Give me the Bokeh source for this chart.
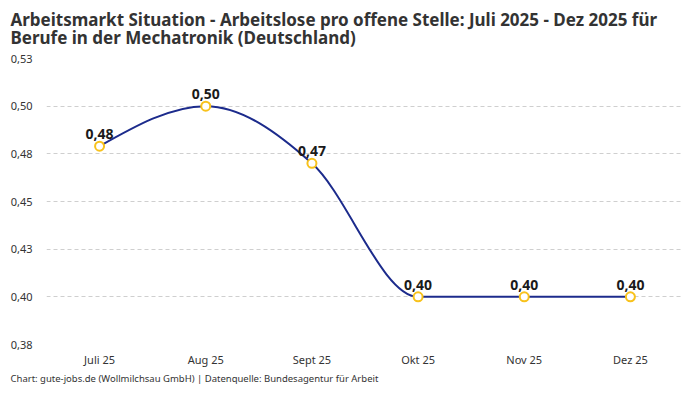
from bokeh.plotting import figure
from bokeh.models import ColumnDataSource, FixedTicker, Title
from bokeh.core.properties import value
from bokeh.embed import file_html
from bokeh.resources import INLINE

months = ["Juli 25", "Aug 25", "Sept 25", "Okt 25", "Nov 25", "Dez 25"]
ratio = [0.479, 0.50, 0.47, 0.40, 0.40, 0.40]
y_ticks = [0.375, 0.40, 0.425, 0.45, 0.475, 0.50, 0.525]
title_lines = [
    "Arbeitsmarkt Situation - Arbeitslose pro offene Stelle: Juli 2025 - Dez 2025 für",
    "Berufe in der Mechatronik (Deutschland)",
]
footer = "Chart: gute-jobs.de (Wollmilchsau GmbH) | Datenquelle: Bundesagentur für Arbeit"

FONT = "Noto Sans"
LINE = "#1c2b8c"
DOT = "#f8c21c"
TXT = "#333333"


def de(v):
    return f"{v + 1e-9:.2f}".replace(".", ",")


def monotone_tangents(xs, ys):
    # same slopes as d3 curveMonotoneX
    n = len(xs)
    s = [(ys[i + 1] - ys[i]) / (xs[i + 1] - xs[i]) for i in range(n - 1)]
    sgn = lambda v: (v > 0) - (v < 0)
    t = [0.0] * n
    for i in range(1, n - 1):
        h0, h1 = xs[i] - xs[i - 1], xs[i + 1] - xs[i]
        p = (s[i - 1] * h1 + s[i] * h0) / (h0 + h1)
        t[i] = (sgn(s[i - 1]) + sgn(s[i])) * min(abs(s[i - 1]), abs(s[i]), 0.5 * abs(p))
    t[0] = (3 * s[0] - t[1]) / 2
    t[-1] = (3 * s[-1] - t[-2]) / 2
    return t


xs = list(range(len(months)))
tan = monotone_tangents(xs, ratio)
seg = dict(x0=[], y0=[], x1=[], y1=[], cx0=[], cy0=[], cx1=[], cy1=[])
for i in range(len(xs) - 1):
    dx = (xs[i + 1] - xs[i]) / 3
    seg["x0"].append(xs[i]); seg["y0"].append(ratio[i])
    seg["x1"].append(xs[i + 1]); seg["y1"].append(ratio[i + 1])
    seg["cx0"].append(xs[i] + dx); seg["cy0"].append(ratio[i] + dx * tan[i])
    seg["cx1"].append(xs[i + 1] - dx); seg["cy1"].append(ratio[i + 1] - dx * tan[i + 1])

pts = ColumnDataSource(dict(x=xs, y=ratio, lbl=[de(v) for v in ratio]))

p = figure(width=684, height=384, x_range=(-0.5, 5.5), y_range=(0.375, 0.525),
           output_backend="svg", toolbar_location=None,
           min_border_left=46, min_border_right=1, min_border_top=0, min_border_bottom=0)
p.outline_line_color = None
p.background_fill_color = "white"
p.border_fill_color = "white"

p.xgrid.grid_line_color = None
p.ygrid.grid_line_color = "#cfcfcf"
p.ygrid.grid_line_dash = "4 3"

p.yaxis.ticker = FixedTicker(ticks=y_ticks)
p.yaxis.major_label_overrides = {v: de(v) for v in y_ticks}
p.xaxis.ticker = FixedTicker(ticks=xs)
p.xaxis.major_label_overrides = {i: m for i, m in zip(xs, months)}
for ax in (p.xaxis, p.yaxis):
    ax.axis_line_color = None
    ax.major_tick_line_color = None
    ax.minor_tick_line_color = None
    ax.major_tick_out = 0
    ax.major_tick_in = 0
    ax.major_label_text_font = FONT
    ax.major_label_text_font_size = "11px"
    ax.major_label_text_color = TXT
p.yaxis.major_label_standoff = 14
p.xaxis.major_label_standoff = 7

p.bezier(x0="x0", y0="y0", x1="x1", y1="y1", cx0="cx0", cy0="cy0", cx1="cx1", cy1="cy1",
         source=ColumnDataSource(seg), line_color=LINE, line_width=2)
p.scatter("x", "y", source=pts, size=9, fill_color="white", line_color=DOT, line_width=2)
p.text("x", "y", text="lbl", source=pts, text_align="center", text_baseline="bottom",
       y_offset=-7, text_font=value(FONT), text_font_size="14px", text_font_style="bold",
       text_color="#1a1a1a")

p.add_layout(Title(text=footer, align="left", offset=-36, standoff=0, text_font=FONT,
                   text_font_size="9.5px", text_font_style="normal", text_color=TXT), "below")
p.add_layout(Title(text="\n".join(title_lines), align="left", offset=-36, standoff=15,
                   vertical_align="top", text_font=FONT, text_font_size="17px",
                   text_color=TXT, text_line_height=0.8), "above")

open("out.html", "w").write(file_html(p, INLINE))
